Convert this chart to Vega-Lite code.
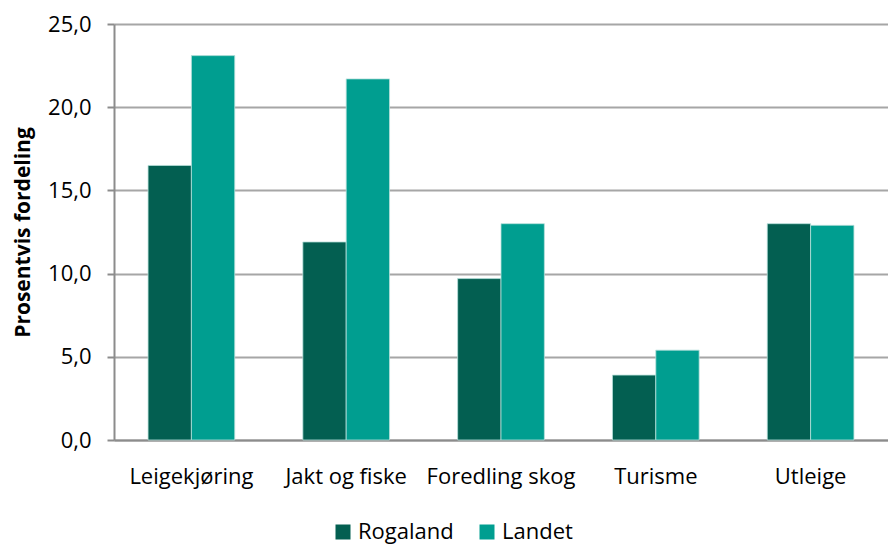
{
  "$schema": "https://vega.github.io/schema/vega-lite/v6.json",
  "width": 774,
  "height": 416,
  "autosize": "none",
  "padding": {"left": 114, "top": 24, "right": 0, "bottom": 106},
  "background": "white",
  "data": {"values": [
    {"kategori": "Leigekjøring", "serie": "Rogaland", "verdi": 16.5},
    {"kategori": "Leigekjøring", "serie": "Landet", "verdi": 23.1},
    {"kategori": "Jakt og fiske", "serie": "Rogaland", "verdi": 11.9},
    {"kategori": "Jakt og fiske", "serie": "Landet", "verdi": 21.7},
    {"kategori": "Foredling skog", "serie": "Rogaland", "verdi": 9.7},
    {"kategori": "Foredling skog", "serie": "Landet", "verdi": 13.0},
    {"kategori": "Turisme", "serie": "Rogaland", "verdi": 3.9},
    {"kategori": "Turisme", "serie": "Landet", "verdi": 5.4},
    {"kategori": "Utleige", "serie": "Rogaland", "verdi": 13.0},
    {"kategori": "Utleige", "serie": "Landet", "verdi": 12.9}
  ]},
  "mark": {"type": "bar", "stroke": "#b8e0da", "strokeWidth": 0.8},
  "encoding": {
    "x": {
      "field": "kategori", "type": "nominal",
      "sort": ["Leigekjøring", "Jakt og fiske", "Foredling skog", "Turisme", "Utleige"],
      "scale": {"paddingInner": 0.44, "paddingOuter": 0.22},
      "axis": {
        "title": null, "labelAngle": 0, "labelFont": "Open Sans", "labelFontSize": 22,
        "labelColor": "#000000", "labelPadding": 26, "ticks": false,
        "domainColor": "#8c8c8c", "domainWidth": 2, "grid": false
      }
    },
    "xOffset": {"field": "serie", "type": "nominal", "sort": ["Rogaland", "Landet"], "scale": {"paddingInner": 0}},
    "y": {
      "field": "verdi", "type": "quantitative",
      "scale": {"domain": [0, 25], "nice": false},
      "axis": {
        "title": "Prosentvis fordeling", "titleFont": "Open Sans", "titleFontSize": 21,
        "titleFontWeight": "bold", "titleColor": "#000000", "titlePadding": 14,
        "values": [0, 5, 10, 15, 20, 25],
        "labelExpr": "replace(format(datum.value, '.1f'), '.', ',')",
        "labelFont": "Open Sans", "labelFontSize": 22, "labelColor": "#000000", "labelPadding": 16,
        "tickSize": 7, "tickColor": "#8c8c8c", "tickWidth": 2,
        "domainColor": "#8c8c8c", "domainWidth": 2,
        "grid": true, "gridColor": "#a6a6a6", "gridWidth": 2
      }
    },
    "color": {
      "field": "serie", "type": "nominal",
      "scale": {"domain": ["Rogaland", "Landet"], "range": ["#035f51", "#009e90"]},
      "legend": {
        "title": null, "orient": "none", "direction": "horizontal",
        "legendX": 218, "legendY": 497,
        "symbolType": "square", "symbolSize": 225, "symbolStrokeWidth": 0,
        "labelFont": "Open Sans", "labelFontSize": 22, "labelColor": "#000000",
        "labelOffset": 4, "columnPadding": 22
      }
    }
  },
  "config": {"view": {"stroke": null}}
}
